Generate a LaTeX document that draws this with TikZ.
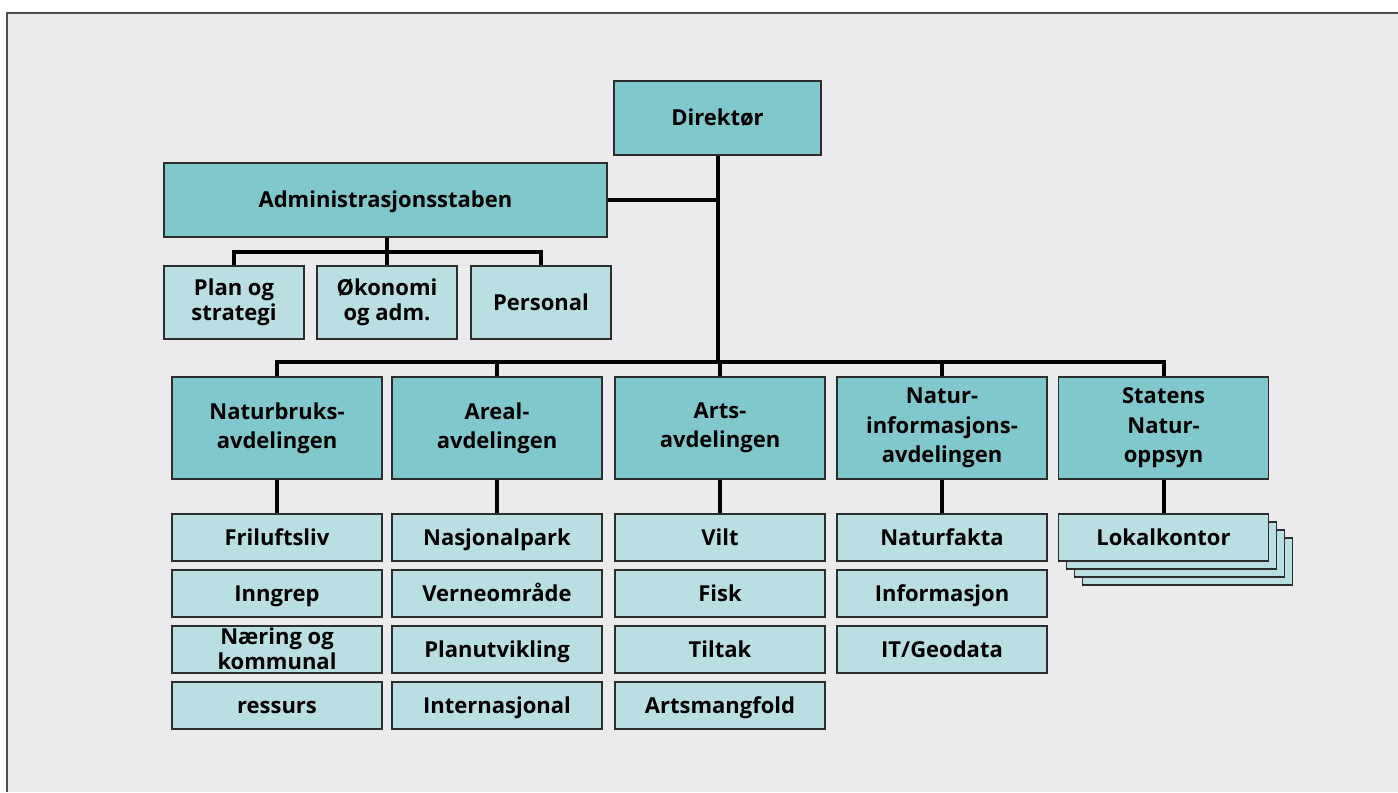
\documentclass[tikz,border=0pt]{standalone}
\usepackage{fontspec}
\setmainfont{Open Sans}
\definecolor{darkteal}{RGB}{128,200,204}
\definecolor{lightteal}{RGB}{185,223,226}
\definecolor{bgcol}{RGB}{235,235,237}
\definecolor{boxline}{RGB}{45,45,45}
\definecolor{framecol}{RGB}{80,80,80}
\tikzset{
  box/.style={draw=boxline, line width=1.1pt, inner sep=0pt, align=center, text=black,
    font=\fontsize{16.5}{19}\selectfont\bfseries},
  oneline/.style={text height=11.8pt, text depth=0pt},
  dark/.style={box, fill=darkteal},
  light/.style={box, fill=lightteal},
  deptbox/.style={dark, minimum width=157.5pt, minimum height=76.5pt,
    font=\fontsize{16.5}{22}\selectfont\bfseries},
  subbox/.style={light, oneline, minimum width=157.5pt, minimum height=35.25pt},
  staffbox/.style={light, minimum width=105pt, minimum height=54.75pt},
  conn/.style={line width=3pt, black, line join=miter},
}
\begin{document}
\begin{tikzpicture}[x=0.75pt,y=-0.75pt]
\useasboundingbox (0,0) rectangle (1398,792);
\fill[white] (0,0) rectangle (1398,792);
\fill[bgcol] (7,13) rectangle (1398,792);
\draw[framecol, line width=1.5pt] (7,792) -- (7,13) -- (1398,13);

% top level
\node[dark, oneline, minimum width=155.25pt, minimum height=55.5pt] (dir) at (717.5,118) {Direktør};
\node[dark, oneline, minimum width=332.25pt, minimum height=55.5pt] (adm) at (385.5,200) {Administrasjonsstaben};

% staff units
\node[staffbox] (plan) at (234,302.5) {Plan og\\strategi};
\node[staffbox] (oko) at (387,302.5) {Økonomi\\og adm.};
\node[staffbox, oneline] (pers) at (541,302.5) {Personal};

% departments
\node[deptbox] (nb) at (277,428) {Naturbruks-\\avdelingen};
\node[deptbox] (ar) at (497,428) {Areal-\\avdelingen};
\node[deptbox] (arts) at (720,428) {Arts-\\avdelingen};
\node[deptbox] (ni) at (942,428) {Natur-\\informasjons-\\avdelingen};
\node[deptbox] (sno) at (1163.5,428) {Statens\\Natur-\\oppsyn};

% Naturbruks units
\node[subbox, font=\fontsize{16.5}{19}\selectfont\bfseries] (nb3) at (277,649.5)
  {\smash{\begin{tabular}{@{}c@{}}Næring og\\kommunal\end{tabular}}};
\node[subbox] (nb1) at (277,537.5) {Friluftsliv};
\node[subbox] (nb2) at (277,593.5) {Inngrep};
\node[subbox] (nb4) at (277,705.5) {ressurs};

% Areal units
\node[subbox] (ar1) at (497,537.5) {Nasjonalpark};
\node[subbox] (ar2) at (497,593.5) {Verneområde};
\node[subbox] (ar3) at (497,649.5) {Planutvikling};
\node[subbox] (ar4) at (497,705.5) {Internasjonal};

% Arts units
\node[subbox] (arts1) at (720,537.5) {Vilt};
\node[subbox] (arts2) at (720,593.5) {Fisk};
\node[subbox] (arts3) at (720,649.5) {Tiltak};
\node[subbox] (arts4) at (720,705.5) {Artsmangfold};

% Naturinformasjon units
\node[subbox] (ni1) at (942,537.5) {Naturfakta};
\node[subbox] (ni2) at (942,593.5) {Informasjon};
\node[subbox] (ni3) at (942,649.5) {IT/Geodata};

% SNO local offices (stack)
\node[subbox] (lk3) at (1187.5,561.5) {};
\node[subbox] (lk2) at (1179.5,553.5) {};
\node[subbox] (lk1) at (1171.5,545.5) {};
\node[subbox] (lk) at (1163.5,537.5) {Lokalkontor};

% connectors
\coordinate (bus) at (0,362);
\coordinate (sbus) at (0,252);
\draw[conn] (dir.south) -- (dir.south |- bus);
\draw[conn] (adm.east) -- (adm.east -| dir.south);
\draw[conn] (nb.north) -- (nb.north |- bus) -- (sno.north |- bus) -- (sno.north);
\draw[conn] (ar.north) -- (ar.north |- bus);
\draw[conn] (arts.north) -- (arts.north |- bus);
\draw[conn] (ni.north) -- (ni.north |- bus);

\draw[conn] (adm.south -| oko.north) -- (oko.north);
\draw[conn] (plan.north) -- (plan.north |- sbus) -- (pers.north |- sbus) -- (pers.north);

\draw[conn] (nb.south) -- (nb1.north);
\draw[conn] (ar.south) -- (ar1.north);
\draw[conn] (arts.south) -- (arts1.north);
\draw[conn] (ni.south) -- (ni1.north);
\draw[conn] (sno.south) -- (lk.north);
\end{tikzpicture}
\end{document}
